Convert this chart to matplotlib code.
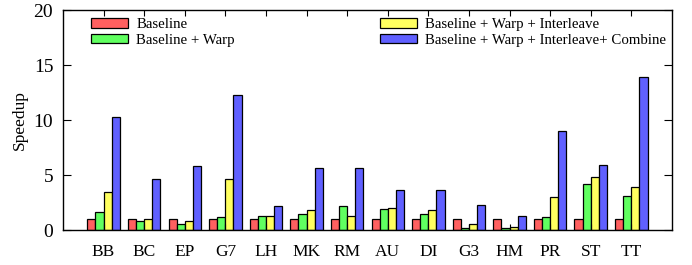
import matplotlib
matplotlib.use("Agg")
import matplotlib.pyplot as plt
import numpy as np

plt.rcParams["font.family"] = ["Liberation Serif", "DejaVu Serif"]

CATEGORIES = ["BB", "BC", "EP", "G7", "LH", "MK", "RM", "AU", "DI", "G3", "HM", "PR", "ST", "TT"]
SERIES = [
    "Baseline",
    "Baseline + Warp",
    "Baseline + Warp + Interleave",
    "Baseline + Warp + Interleave+ Combine",
]
baseline = [1.0, 1.0, 1.0, 1.0, 1.0, 1.0, 1.0, 1.0, 1.0, 1.0, 1.0, 1.0, 1.0, 1.0]
warp = [1.64, 0.79, 0.52, 1.21, 1.24, 1.42, 2.21, 1.91, 1.48, 0.21, 0.21, 1.18, 4.18, 3.12]
interleave = [3.48, 1.03, 0.82, 4.60, 1.30, 1.79, 1.27, 1.97, 1.79, 0.55, 0.24, 2.97, 4.82, 3.91]
combine = [10.27, 4.60, 5.85, 12.24, 2.15, 5.60, 5.64, 3.60, 3.64, 2.24, 1.24, 9.03, 5.90, 13.94]
COLORS = ["#ff6060", "#60ff60", "#ffff60", "#6060ff"]

fig = plt.figure(figsize=(6.92, 2.65), dpi=100)
ax = fig.add_axes([0.091, 0.132, 0.880, 0.830])

x = np.arange(1, len(CATEGORIES) + 1)
width = 0.2
handles = []
for i, (vals, color, label) in enumerate(zip([baseline, warp, interleave, combine], COLORS, SERIES)):
    b = ax.bar(x + (i - 1.5) * width, vals, width, color=color,
               edgecolor="black", linewidth=0.9, label=label)
    handles.append(b)

ax.set_xlim(0, 15)
ax.set_ylim(0, 20)
ax.set_xticks(x)
ax.set_xticklabels(CATEGORIES, fontsize=12.5)
ax.set_yticks([0, 5, 10, 15, 20])
ax.tick_params(axis="y", labelsize=14, direction="in", length=6, right=True, pad=7)
ax.tick_params(axis="x", direction="in", length=4, top=True, pad=10)
ax.set_ylabel("Speedup", fontsize=12.5)
ax.yaxis.set_label_coords(-0.058, 0.5)
for s in ax.spines.values():
    s.set_linewidth(1.0)

legend_kw = dict(loc="upper left", frameon=False, fontsize=10.7, handlelength=2.5,
                 handleheight=0.6, handletextpad=0.55, labelspacing=0.15,
                 borderpad=0, borderaxespad=0)
leg1 = ax.legend(handles=handles[:2], bbox_to_anchor=(0.046, 0.962), **legend_kw)
ax.add_artist(leg1)
ax.legend(handles=handles[2:], bbox_to_anchor=(0.52, 0.962), **legend_kw)

fig.savefig("out.png", dpi=100)
